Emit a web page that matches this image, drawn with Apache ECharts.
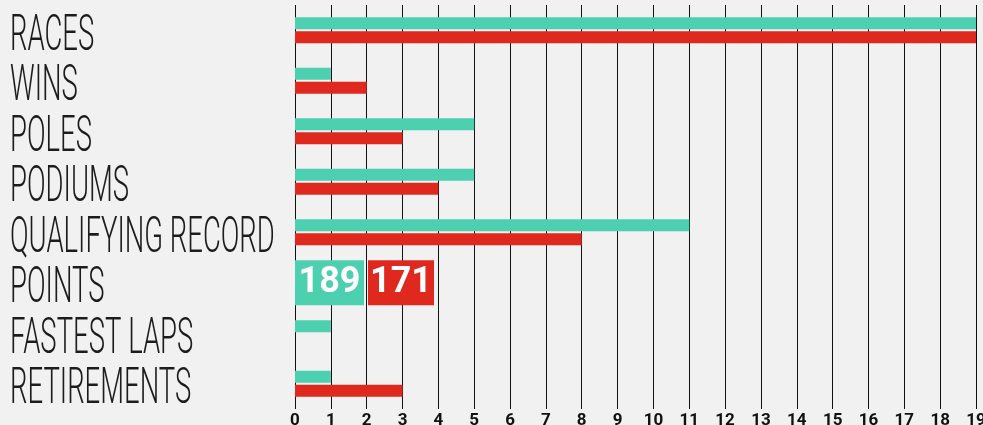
<!DOCTYPE html>
<html>
<head>
<meta charset="utf-8">
<script src="https://cdn.jsdelivr.net/npm/echarts@6/dist/echarts.min.js"></script>
<style>
html, body { margin: 0; padding: 0; background: #f1f1f1; }
#main { width: 983px; height: 425px; }
</style>
</head>
<body>
<div id="main"></div>
<script>
var app = echarts.init(document.getElementById('main'));

var categories = ['RACES', 'WINS', 'POLES', 'PODIUMS', 'QUALIFYING RECORD', 'POINTS', 'FASTEST LAPS', 'RETIREMENTS'];
var teal_vals = [19, 1, 5, 5, 11, '-', 1, 1];
var red_vals = [19, 2, 3, 4, 8, '-', 0, 3];
var points = [189, 171];

var TEAL = '#4dd0b0', RED = '#e0291e';

var boxText = {
    color: '#fff', height: 45, lineHeight: 45, align: 'center',
    fontSize: 36, fontWeight: 'bold', fontFamily: 'Roboto'
};

option = {
    backgroundColor: '#f1f1f1',
    animation: false,
    grid: {left: 295, right: 7, top: 5, bottom: 16, outerBoundsMode: 'none', containLabel: false},
    xAxis: {
        type: 'value',
        min: 0,
        max: 19,
        interval: 1,
        axisLine: {show: false},
        axisTick: {show: false},
        splitLine: {show: true, lineStyle: {color: '#111', width: 1}},
        axisLabel: {
            color: '#111', fontSize: 17, fontWeight: 'bold',
            fontFamily: 'Roboto', margin: 3
        }
    },
    yAxis: {
        type: 'category',
        data: categories,
        inverse: true,
        axisLine: {show: false},
        axisTick: {show: false},
        axisLabel: {show: false}
    },
    series: [
        {
            name: 'a', type: 'bar', data: teal_vals,
            barWidth: 12, barGap: '17%',
            itemStyle: {color: TEAL}, silent: true
        },
        {
            name: 'b', type: 'bar', data: red_vals,
            barWidth: 12, barGap: '17%',
            itemStyle: {color: RED}, silent: true
        },
        {
            name: 'pts', type: 'scatter', symbolSize: 0, silent: true,
            itemStyle: {opacity: 1},
            data: [[0, 'POINTS']],
            label: {
                show: true, position: 'right', distance: 0, opacity: 1,
                formatter: '{t|' + points[0] + '}{g|}{r|' + points[1] + '}',
                rich: {
                    t: Object.assign({backgroundColor: TEAL, width: 69}, boxText),
                    g: {width: 4, height: 45},
                    r: Object.assign({backgroundColor: RED, width: 66}, boxText)
                }
            }
        }
    ]
};

app.setOption(option);

// category names drawn as condensed text on the left
app.setOption({
    graphic: categories.map(function (c) {
        return {
            type: 'text',
            x: 10,
            y: app.convertToPixel({yAxisIndex: 0}, c) + 7,
            scaleX: 0.55,
            silent: true,
            style: {
                text: c, fill: '#1c1c1c',
                fontSize: 50, fontWeight: 300, fontFamily: 'Roboto',
                verticalAlign: 'middle', textVerticalAlign: 'middle'
            }
        };
    })
});
</script>
</body>
</html>
